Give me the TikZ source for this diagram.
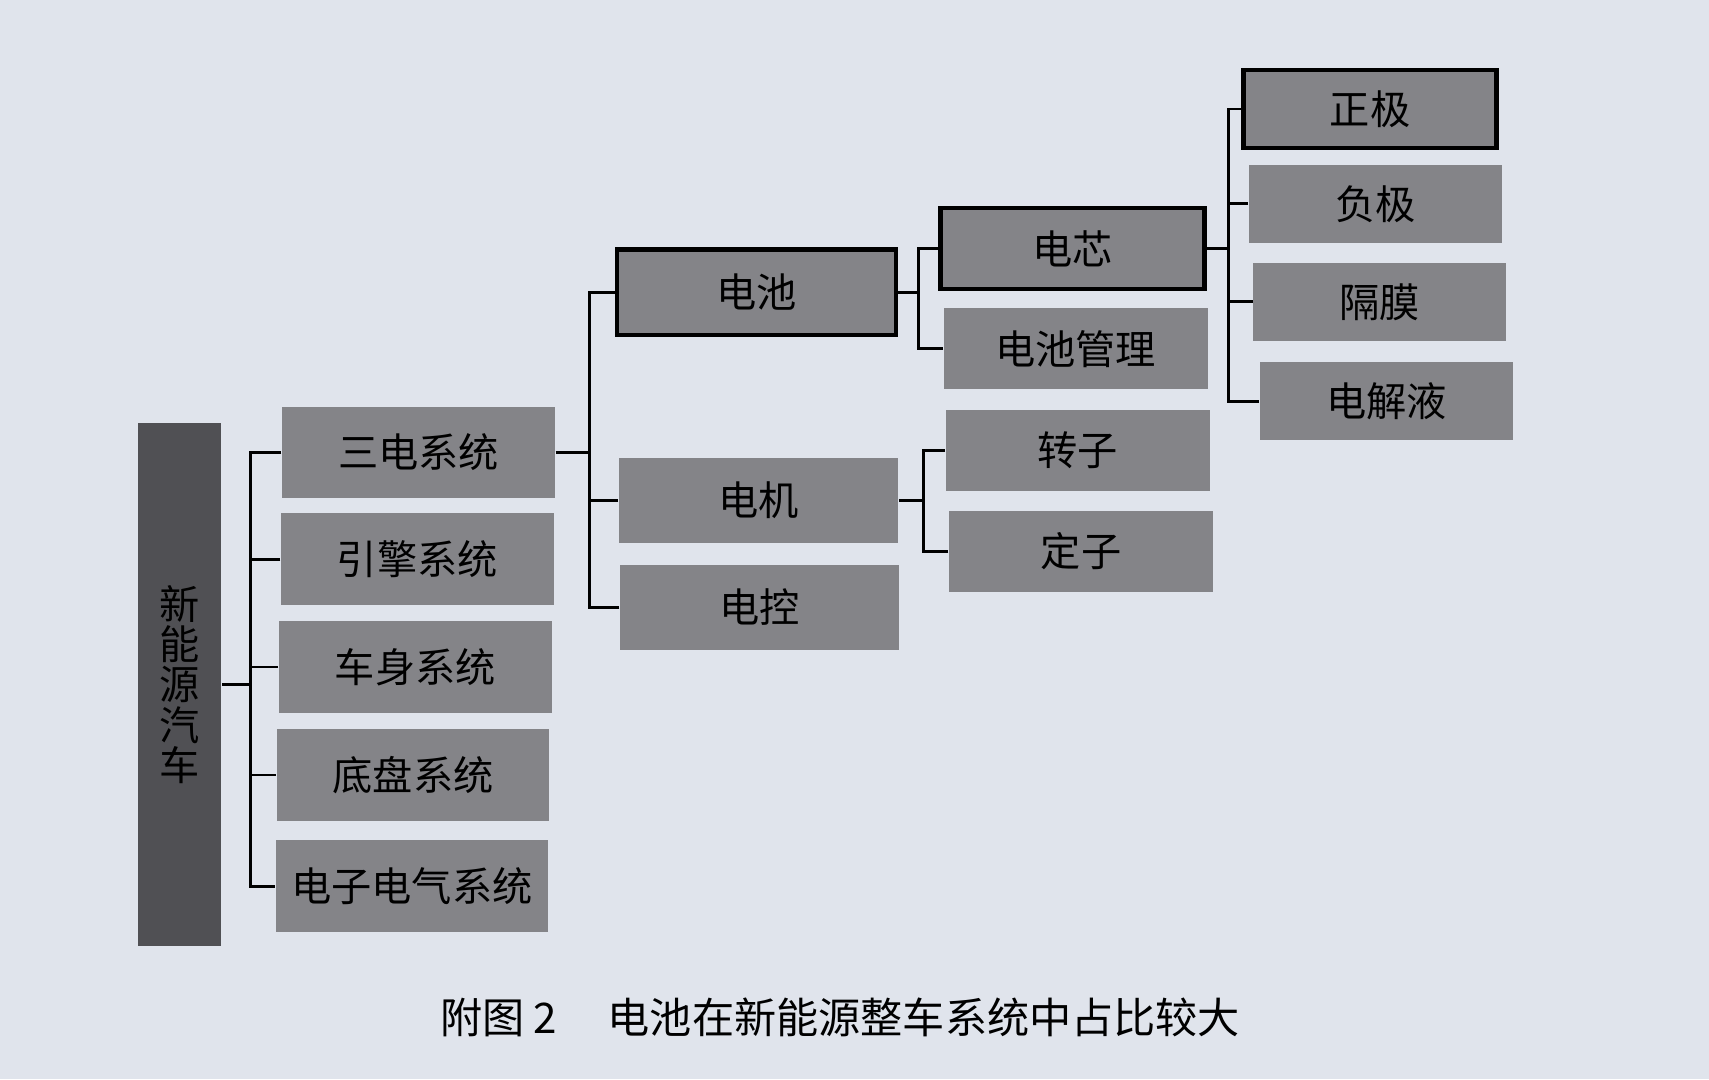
\documentclass[tikz,border=0pt]{standalone}
\usepackage{fontspec}
\newfontfamily\cjk{Noto Sans CJK SC}
\definecolor{PageBg}{RGB}{224, 228, 236}
\definecolor{BoxGray}{RGB}{132, 132, 136}
\definecolor{RootGray}{RGB}{80, 80, 84}
\usetikzlibrary{positioning}

\begin{document}
\begin{tikzpicture}[
        x=0.01cm, y=-0.01cm,
        box/.style={rectangle, fill=BoxGray, minimum width=2.5cm, minimum height=0.84cm, align=center, inner sep=0pt, font=\cjk\fontsize{10.5}{12}\selectfont},
        midbox/.style={box, minimum width=2.56cm, minimum height=0.78cm},
        subbox/.style={box, minimum width=2.42cm, minimum height=0.74cm},
        partbox/.style={box, minimum width=2.32cm, minimum height=0.72cm},
        marked/.style={draw=black, line width=1.1pt},
        conn/.style={draw=black, line width=0.75pt}
    ]
        % page
        \fill[PageBg] (0,0) rectangle (1568,990);
        \useasboundingbox (0,0) rectangle (1568,990);

        % Root
        \node[box, fill=RootGray, minimum width=0.76cm, minimum height=4.8cm, font=\cjk\fontsize{10.5}{10.5}\selectfont] (car) at (165, 628) {新\\能\\源\\汽\\车};

        % Level 1 - systems
        \node[box] (san) at (384, 415) {三电系统};
        \node[box] (yin) at (383, 513) {引擎系统};
        \node[box] (che) at (381, 612) {车身系统};
        \node[box] (di) at (379, 711) {底盘系统};
        \node[box] (dian) at (378, 813) {电子电气系统};

        % Level 2 - three electric parts
        \node[midbox, marked] (bat) at (694, 268) {电池};
        \node[midbox] (mot) at (696, 459) {电机};
        \node[midbox] (ctl) at (697, 557) {电控};

        % Level 3
        \node[subbox, marked] (cell) at (984, 228) {电芯};
        \node[subbox] (bms) at (987, 320) {电池管理};
        \node[subbox] (rotor) at (989, 413) {转子};
        \node[subbox] (stator) at (992, 506) {定子};

        % Level 4 - cell parts
        \node[partbox, marked] (pos) at (1257, 100) {正极};
        \node[partbox] (neg) at (1262, 187) {负极};
        \node[partbox] (sep) at (1266, 277) {隔膜};
        \node[partbox] (ele) at (1272, 368) {电解液};

        % Junctions
        \coordinate (jcar) at (230, 628);
        \coordinate (jsan) at (541, 415);
        \coordinate (jbat) at (843, 268);
        \coordinate (jmot) at (847, 459);
        \coordinate (jcell) at (1127, 228);

        % Connections
        \draw[conn] (car) -- (jcar);
        \foreach \sys in {san, yin, che, di, dian} {
            \draw[conn] (\sys.west) -| (jcar);
        }
        \draw[conn] (san) -- (jsan);
        \foreach \part in {bat, mot, ctl} {
            \draw[conn] (\part.west) -| (jsan);
        }
        \draw[conn] (bat) -- (jbat);
        \foreach \part in {cell, bms} {
            \draw[conn] (\part.west) -| (jbat);
        }
        \draw[conn] (mot) -- (jmot);
        \foreach \part in {rotor, stator} {
            \draw[conn] (\part.west) -| (jmot);
        }
        \draw[conn] (cell) -- (jcell);
        \foreach \part in {pos, neg, sep, ele} {
            \draw[conn] (\part.west) -| (jcell);
        }

        % Caption
        \node[font=\cjk\fontsize{11}{13}\selectfont, anchor=west, inner sep=0pt] (cap) at (403, 933) {附图 2\hspace{1.2em}电池在新能源整车系统中占比较大};
    \end{tikzpicture}
\end{document}
